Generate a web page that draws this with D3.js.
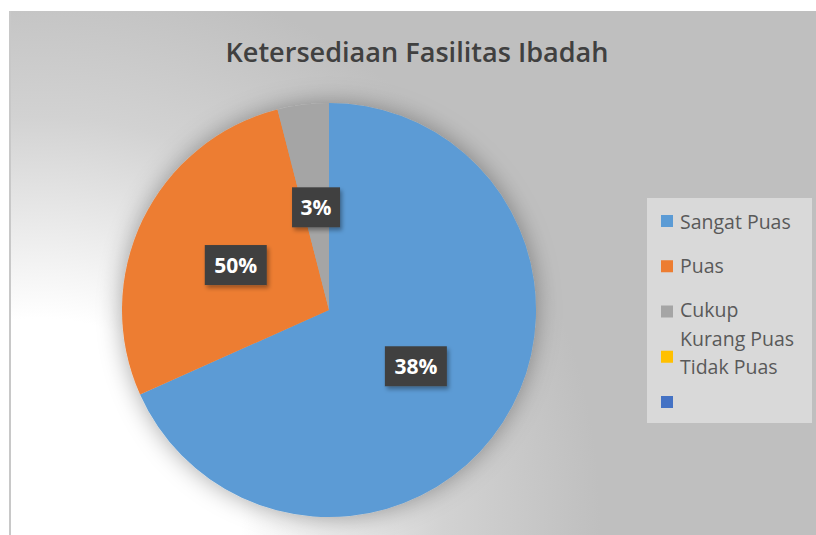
<!DOCTYPE html>
<html>
<head>
<meta charset="utf-8">
<script src="https://cdn.jsdelivr.net/npm/d3@7"></script>
<style>
  body { margin: 0; background: #fff; }
  svg { display: block; font-family: "Open Sans", sans-serif; }
</style>
</head>
<body>
<div id="chart"></div>
<script>
// data
var categories = ["Sangat Puas", "Puas", "Cukup"];
var values = [68.3, 27.7, 4.0];
var sliceLabels = ["38%", "50%", "3%"];
var legendNames = ["Sangat Puas", "Puas", "Cukup", "Kurang Puas", "Tidak Puas", ""];
var legendColors = ["#5b9bd5", "#ed7d31", "#a5a5a5", "#ffc000", "#4472c4"];
var title = "Ketersediaan Fasilitas Ibadah";

// set the dimensions
var width = 816, height = 535;
var cx = 329, cy = 310, radius = 207;

var svg = d3.select("#chart").append("svg")
  .attr("width", width)
  .attr("height", height);

var defs = svg.append("defs");

// background gradient (white bottom-left to grey)
var grad = defs.append("radialGradient")
  .attr("id", "bg")
  .attr("gradientUnits", "userSpaceOnUse")
  .attr("cx", 40).attr("cy", 520).attr("r", 560);
grad.append("stop").attr("offset", "0%").attr("stop-color", "#ffffff");
grad.append("stop").attr("offset", "36%").attr("stop-color", "#ffffff");
grad.append("stop").attr("offset", "72%").attr("stop-color", "#d2d2d2");
grad.append("stop").attr("offset", "100%").attr("stop-color", "#bfbfbf");

var shadow = defs.append("filter").attr("id", "shadow")
  .attr("x", "-30%").attr("y", "-30%").attr("width", "160%").attr("height", "160%");
shadow.append("feDropShadow")
  .attr("dx", 0).attr("dy", 0).attr("stdDeviation", 12)
  .attr("flood-color", "#000").attr("flood-opacity", 0.35);

var boxShadow = defs.append("filter").attr("id", "boxShadow")
  .attr("x", "-30%").attr("y", "-30%").attr("width", "160%").attr("height", "160%");
boxShadow.append("feDropShadow")
  .attr("dx", 2).attr("dy", 3).attr("stdDeviation", 2)
  .attr("flood-color", "#000").attr("flood-opacity", 0.35);

// chart area
svg.append("rect")
  .attr("x", 9).attr("y", 11)
  .attr("width", width - 9).attr("height", height - 11)
  .attr("fill", "url(#bg)");
svg.append("line")
  .attr("x1", 10).attr("x2", 10).attr("y1", 11).attr("y2", height)
  .attr("stroke", "#c8c8c8").attr("stroke-width", 2);

// title
svg.append("text")
  .attr("x", 417).attr("y", 62)
  .attr("text-anchor", "middle")
  .attr("textLength", 383)
  .attr("lengthAdjust", "spacingAndGlyphs")
  .style("font-size", "27px")
  .style("font-weight", "600")
  .attr("fill", "#404040")
  .text(title);

// pie
var color = d3.scaleOrdinal().domain(categories).range(legendColors);
var pie = d3.pie().sort(null).value(function(d) { return d.value; });
var arc = d3.arc().innerRadius(0).outerRadius(radius);

var data = categories.map(function(c, i) {
  return { name: c, value: values[i], label: sliceLabels[i] };
});

var g = svg.append("g")
  .attr("transform", "translate(" + cx + "," + cy + ")");

g.append("g")
  .attr("filter", "url(#shadow)")
  .selectAll("path")
  .data(pie(data))
  .enter().append("path")
  .attr("d", arc)
  .attr("fill", function(d) { return color(d.data.name); });

// data labels
var lab = g.selectAll(".lab")
  .data(pie(data))
  .enter().append("g")
  .attr("class", "lab")
  .attr("transform", function(d) {
    var c = arc.centroid(d);
    return "translate(" + c[0] + "," + c[1] + ")";
  });

lab.append("rect")
  .attr("x", function(d) { return d.data.label.length > 2 ? -31 : -24; })
  .attr("y", -20)
  .attr("width", function(d) { return d.data.label.length > 2 ? 62 : 48; })
  .attr("height", 40)
  .attr("fill", "#404040")
  .attr("filter", "url(#boxShadow)");

lab.append("text")
  .attr("text-anchor", "middle")
  .attr("dy", "0.36em")
  .style("font-size", "21px")
  .style("font-weight", "700")
  .attr("fill", "#ffffff")
  .text(function(d) { return d.data.label; });

// legend
var legend = svg.append("g");
legend.append("rect")
  .attr("x", 647).attr("y", 198)
  .attr("width", 165).attr("height", 225)
  .attr("fill", "#d9d9d9");

var markerY = d3.scalePoint()
  .domain(legendColors)
  .range([221, 402]);

legend.selectAll(".mk")
  .data(legendColors)
  .enter().append("rect")
  .attr("x", 661)
  .attr("y", function(d) { return markerY(d) - 6; })
  .attr("width", 12).attr("height", 12)
  .attr("fill", function(d) { return d; });

var textBaselines = [229, 273, 317, 346, 374, 409];
legend.selectAll(".lt")
  .data(legendNames)
  .enter().append("text")
  .attr("x", 680)
  .attr("y", function(d, i) { return textBaselines[i]; })
  .style("font-size", "19.5px")
  .attr("fill", "#595959")
  .text(function(d) { return d; });
</script>
</body>
</html>
